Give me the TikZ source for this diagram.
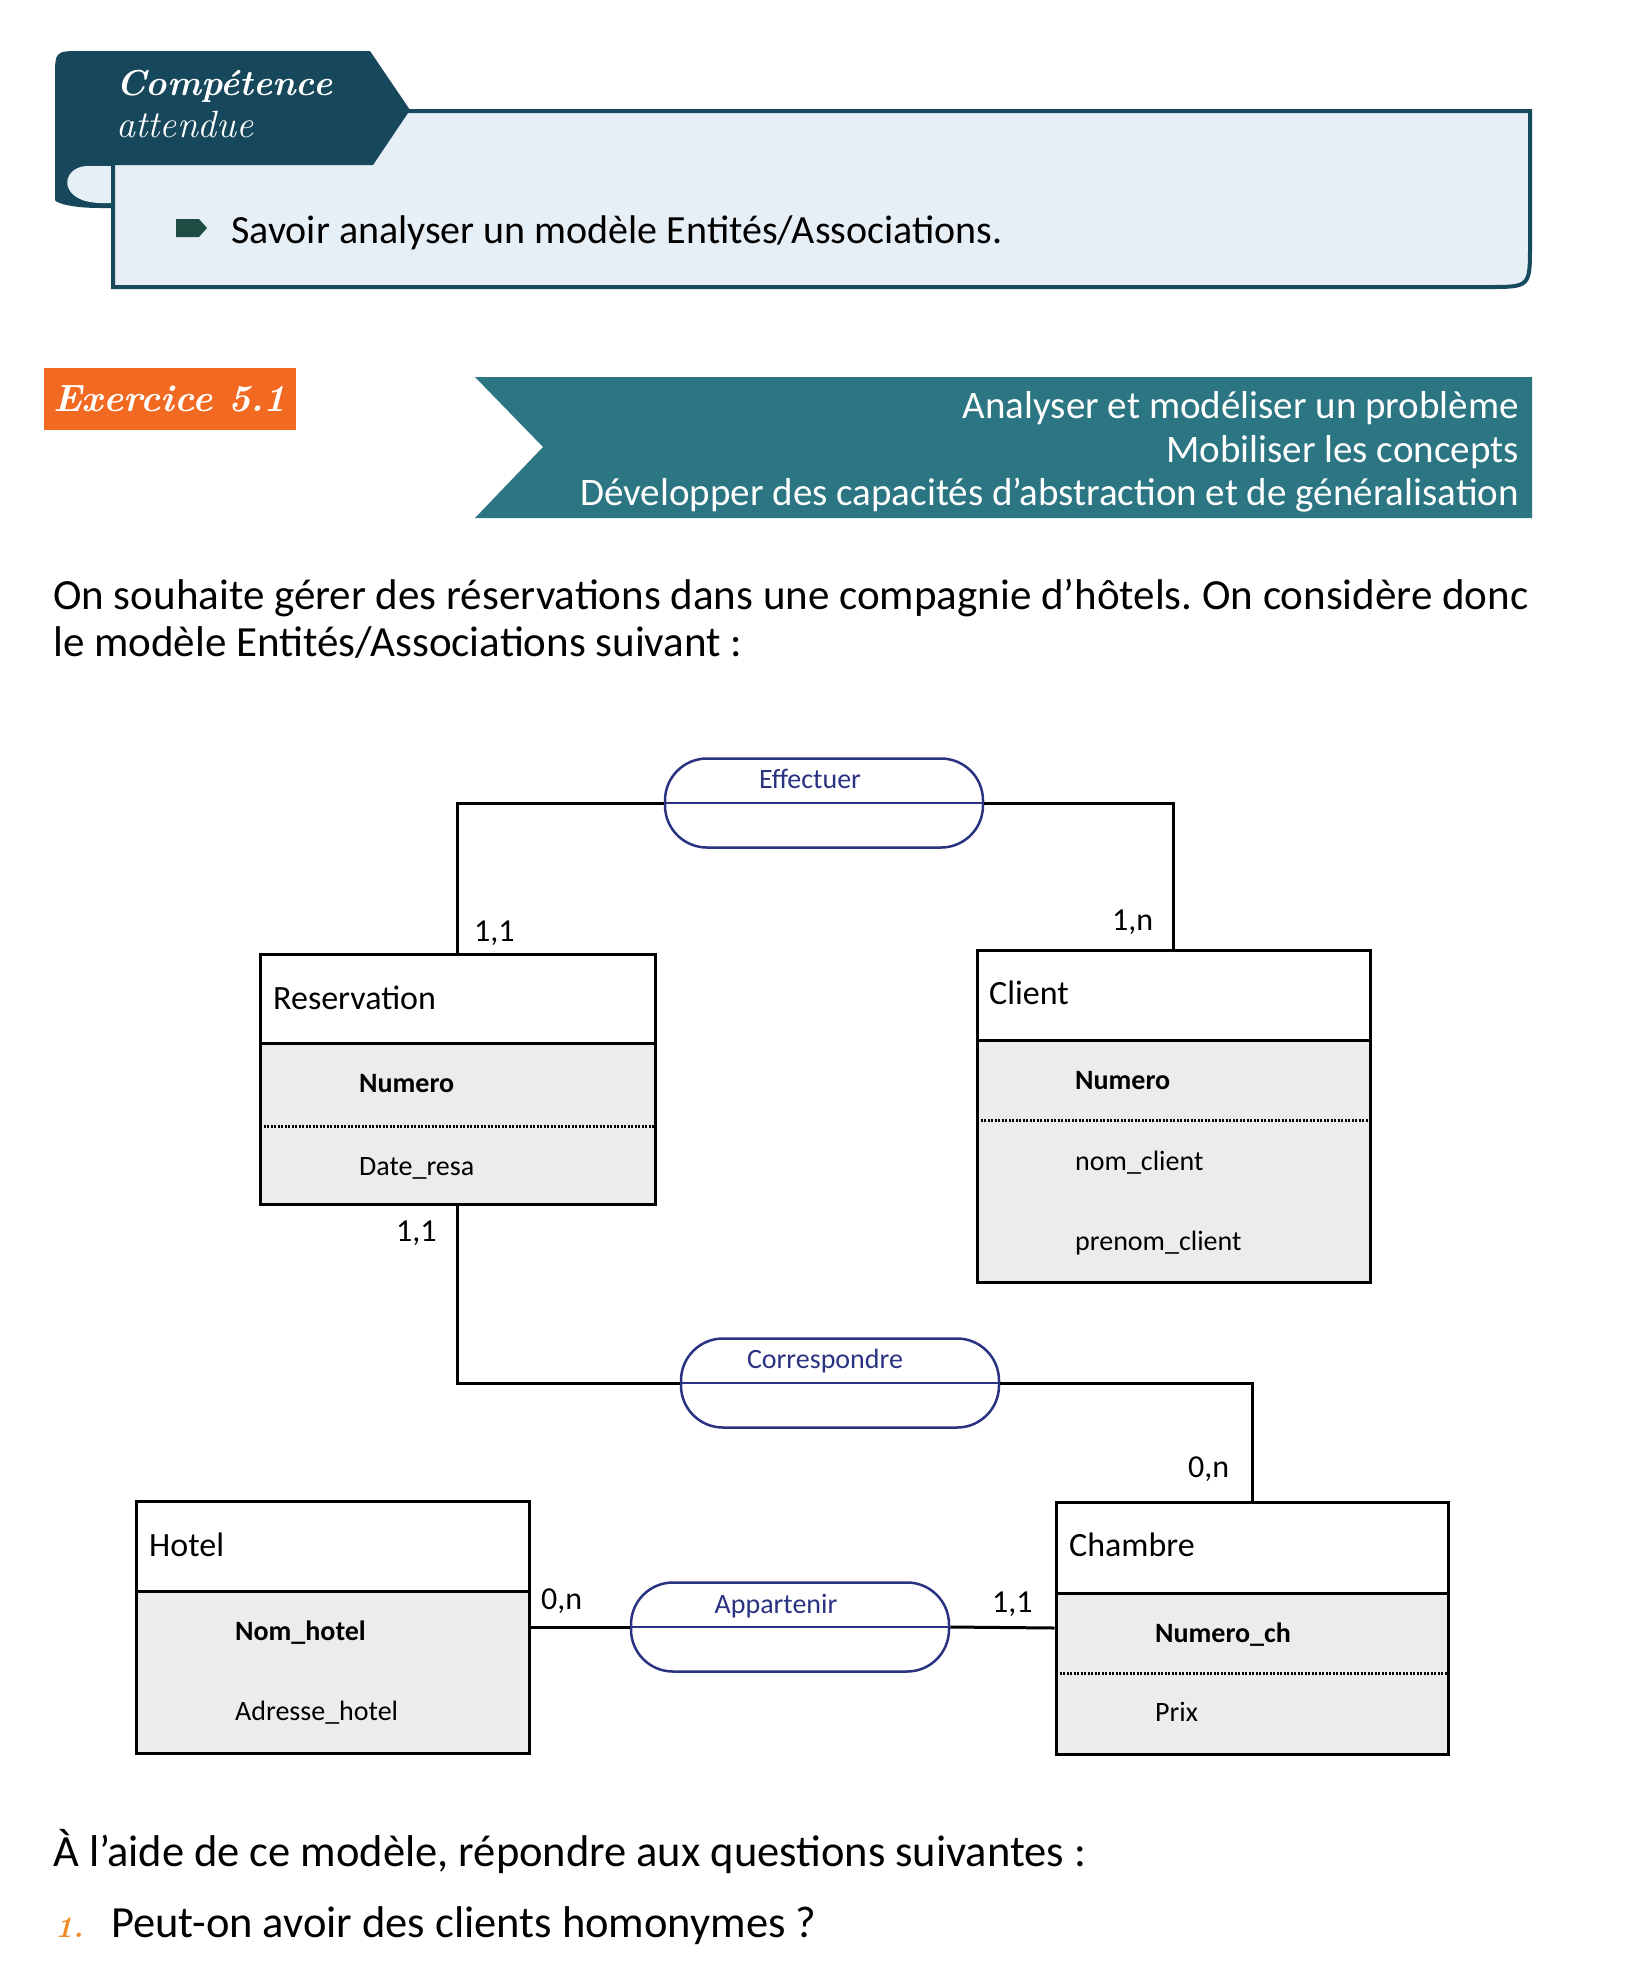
\documentclass[tikz,border=0pt]{standalone}
\usepackage{fontspec}
\newfontfamily\calib{Carlito}
\definecolor{tabc}{HTML}{16475A}
\definecolor{boxfill}{HTML}{E6EFF6}
\definecolor{boxborder}{HTML}{174A5C}
\definecolor{ribc}{HTML}{2C7683}
\definecolor{orangec}{HTML}{F26A22}
\definecolor{bulletc}{HTML}{1E4B42}
\definecolor{navyc}{HTML}{2A3282}
\definecolor{attrfill}{HTML}{ECECEF}
\definecolor{numc}{HTML}{F08A24}
\newcommand\mkentity[6]{%
  \fill[attrfill] (#2,#6) rectangle (#4,#5);
  \node[entnode, minimum width={#4-#2}, minimum height={#5-#3}] (#1) at ({(#2+#4)/2},{(#3+#5)/2}) {};
  \draw[entline] (#2,#6) -- (#4,#6);
}
\begin{document}
\begin{tikzpicture}[x=1pt,y=-1pt,
  entnode/.style={rectangle, draw=black, line width=3pt, inner sep=0pt},
  entline/.style={draw=black, line width=3pt},
  dotline/.style={draw=black, line width=3pt, dash pattern=on 2pt off 1.5pt},
  assoc/.style={rectangle, rounded corners=42pt, draw=navyc, line width=2.5pt, minimum width=318pt, minimum height=89pt, inner sep=0pt},
  conn/.style={draw=black, line width=3pt},
  enttitle/.style={anchor=base west, inner sep=0pt, font=\calib\fontsize{34}{40}\selectfont},
  attrkey/.style={anchor=base west, inner sep=0pt, font=\calib\bfseries\fontsize{28}{34}\selectfont},
  attr/.style={anchor=base west, inner sep=0pt, font=\calib\fontsize{28}{34}\selectfont},
  assoctext/.style={anchor=base, inner sep=0pt, text=navyc, font=\calib\fontsize{28}{34}\selectfont},
  card/.style={anchor=base west, inner sep=0pt, font=\calib\fontsize{32}{38}\selectfont},
  body/.style={anchor=base west, inner sep=0pt, font=\calib\fontsize{43}{52}\selectfont\frenchspacing},
  qbody/.style={anchor=base west, inner sep=0pt, font=\calib\fontsize{44.5}{52}\selectfont\frenchspacing},
  ribtext/.style={anchor=base east, inner sep=0pt, text=white, font=\calib\fontsize{39}{46}\selectfont}
]
\useasboundingbox (0,0) rectangle (1625,1982);
\fill[white] (0,0) rectangle (1625,1982);

% ---------- Competence box ----------
\draw[line width=4pt, draw=boxborder, fill=boxfill]
  (113,111) -- (1530,111) -- (1530,245) .. controls (1530,287) .. (1488,287) -- (113,287) -- cycle;
\fill[tabc] (55,200) -- (55,78) .. controls (55,51) .. (82,51) -- (370,51) -- (410,110) -- (373,165)
  -- (113,165) -- (113,208) -- (100,208) .. controls (68,208) and (55,202) .. cycle;
\fill[boxfill] (113,166) -- (86,166) .. controls (60,168) and (58,202) .. (100,203) -- (113,203) -- cycle;
\draw[line width=4pt, draw=boxborder] (113,164) -- (113,210);
\node[anchor=base west, inner sep=0pt, text=white, font=\bfseries\itshape\fontsize{36}{40}\selectfont] (comp) at (116,95) {Compétence};
\node[anchor=base west, inner sep=0pt, text=white, font=\itshape\fontsize{38}{40}\selectfont\addfontfeature{LetterSpace=14}] (att) at (116,137) {attendue};
\fill[bulletc] (176,219) -- (199,219) -- (207,228) -- (199,237) -- (176,237) -- cycle;
\node[anchor=base west, inner sep=0pt, font=\calib\fontsize{40}{48}\selectfont] (savoir) at (231,243) {Savoir analyser un modèle Entités/Associations.};

% ---------- Exercice ----------
\fill[orangec] (44,368) rectangle (296,430);
\node[anchor=base west, inner sep=0pt, text=white, font=\bfseries\itshape\fontsize{38}{46}\selectfont] (exo) at (53,411) {Exercice 5.1};
\fill[ribc] (475,377) -- (1532,377) -- (1532,518) -- (475,518) -- (543,447) -- cycle;
\node[ribtext] (r1) at (1519,418) {Analyser et modéliser un problème};
\node[ribtext] (r2) at (1519,462) {Mobiliser les concepts};
\node[ribtext] (r3) at (1519,505) {Développer des capacités d’abstraction et de généralisation};

\node[body] (intro1) at (53,609) {On souhaite gérer des réservations dans une compagnie d’hôtels. On considère donc};
\node[body] (intro2) at (53,656) {le modèle Entités/Associations suivant :};

% ---------- Diagram ----------
\mkentity{res}{260}{954}{655}{1204}{1043}
\draw[dotline] (260,1126) -- (655,1126);
\node[enttitle] (resT) at (273,1009) {Reservation};
\node[attrkey] (resA) at (359,1092) {Numero};
\node[attr] (resB) at (359,1175) {Date\_resa};

\mkentity{cli}{977}{950}{1370}{1282}{1040}
\draw[dotline] (977,1120) -- (1370,1120);
\node[enttitle] (cliT) at (989,1004) {Client};
\node[attrkey] (cliA) at (1075,1089) {Numero};
\node[attr] (cliB) at (1075,1170) {nom\_client};
\node[attr] (cliC) at (1075,1250) {prenom\_client};

\mkentity{hot}{136}{1501}{529}{1753}{1591}
\node[enttitle] (hotT) at (149,1556) {Hotel};
\node[attrkey] (hotA) at (235,1640) {Nom\_hotel};
\node[attr] (hotB) at (235,1720) {Adresse\_hotel};

\mkentity{cha}{1056}{1502}{1448}{1754}{1593}
\draw[dotline] (1056,1673) -- (1448,1673);
\node[enttitle] (chaT) at (1069,1556) {Chambre};
\node[attrkey] (chaA) at (1155,1642) {Numero\_ch};
\node[attr] (chaB) at (1155,1721) {Prix};

\node[assoc] (eff) at (824,803) {};
\node[assoc] (cor) at (840,1383) {};
\node[assoc] (app) at (790,1627) {};
\draw[conn] (res.north) |- (eff.west);
\draw[conn] (eff.east) -| (cli.north);
\draw[conn] (res.south) |- (cor.west);
\draw[conn] (cor.east) -| (cha.north);
\draw[conn] (hot.east) -- (app.west);
\draw[conn] (app.east) -- (cha.west);
\draw[navyc, line width=2.5pt] (eff.west) -- (eff.east);
\draw[navyc, line width=2.5pt] (cor.west) -- (cor.east);
\draw[navyc, line width=2.5pt] (app.west) -- (app.east);
\node[assoctext] (effT) at (810,788) {Effectuer};
\node[assoctext] (corT) at (825,1368) {Correspondre};
\node[assoctext] (appT) at (776,1613) {Appartenir};

\node[card] (c1) at (474,941) {1,1};
\node[card] (c2) at (1112,930) {1,n};
\node[card] (c3) at (396,1241) {1,1};
\node[card] (c4) at (1188,1477) {0,n};
\node[card] (c5) at (541,1609) {0,n};
\node[card] (c6) at (992,1612) {1,1};

% ---------- Questions ----------
\node[qbody] (q0) at (53,1866) {À l’aide de ce modèle, répondre aux questions suivantes :};
\node[anchor=base west, inner sep=0pt, text=numc, font=\bfseries\itshape\fontsize{30}{36}\selectfont] (n1) at (55,1937) {1.};
\node[qbody] (q1) at (111,1937) {Peut-on avoir des clients homonymes ?};
\end{tikzpicture}
\end{document}
